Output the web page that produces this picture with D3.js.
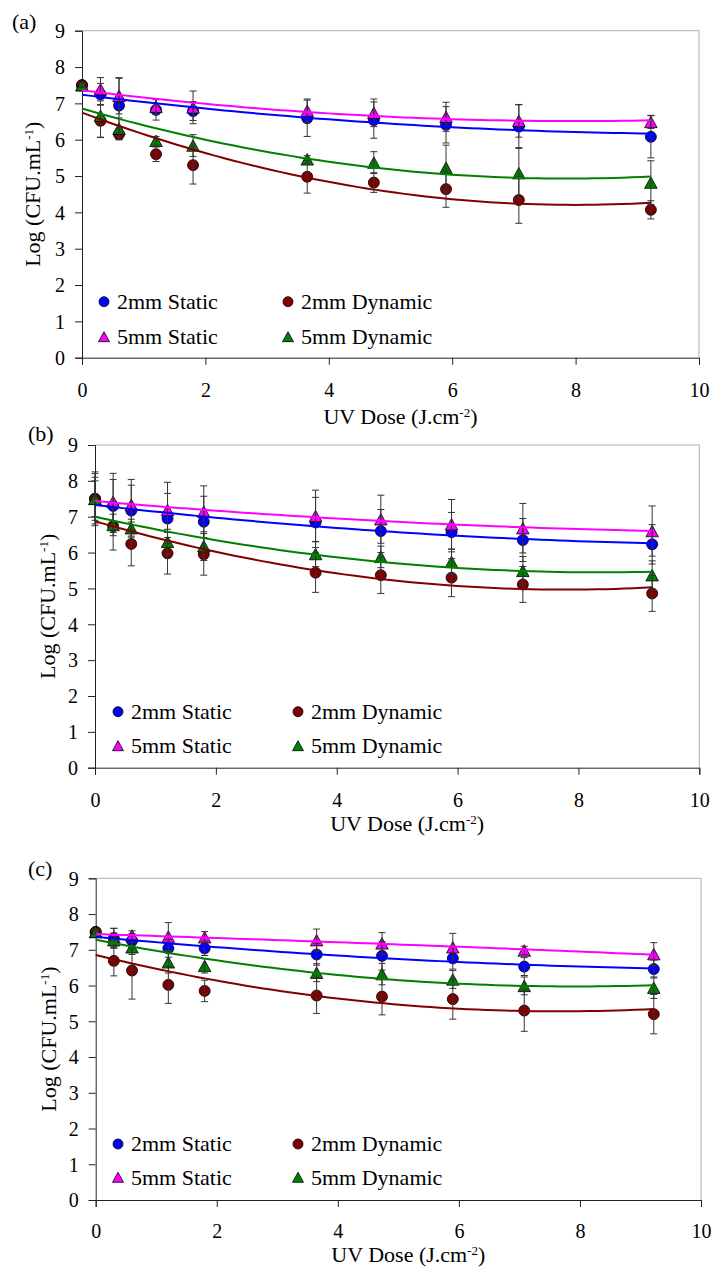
<!DOCTYPE html>
<html>
<head>
<meta charset="utf-8">
<script src="https://cdn.jsdelivr.net/npm/d3@7"></script>
<style>
body { margin: 0; background: #fff; }
text { font-family: "Liberation Serif", "Times New Roman", serif; fill: #000; }
</style>
</head>
<body>
<svg id="chart" width="715" height="1267"></svg>
<script>
// UV dose (J.cm-2), same for every panel
var dose = [0, 0.3, 0.6, 1.2, 1.8, 3.65, 4.73, 5.9, 7.08, 9.22];
var xTicks = [0, 2, 4, 6, 8, 10];
var yTicks = [0, 1, 2, 3, 4, 5, 6, 7, 8, 9];
var seriesNames = ['2mm Static', '2mm Dynamic', '5mm Static', '5mm Dynamic'];
var seriesColors = ['#0000ff', '#800000', '#ff00ff', '#008000'];
var seriesShapes = ['circle', 'circle', 'triangle', 'triangle'];

// panel (a)
var aStatic2  = [7.50, 7.25, 6.94, 6.82, 6.79, 6.59, 6.54, 6.41, 6.36, 6.08];
var aDynamic2 = [7.50, 6.52, 6.15, 5.60, 5.30, 4.98, 4.82, 4.64, 4.34, 4.07];
var aStatic5  = [7.50, 7.39, 7.21, 6.91, 6.89, 6.80, 6.74, 6.63, 6.52, 6.49];
var aDynamic5 = [7.50, 6.66, 6.30, 5.97, 5.84, 5.46, 5.37, 5.23, 5.08, 4.82];
var aErrS2 = [0.05, 0.30, 0.75, 0.28, 0.26, 0.50, 0.50, 0.50, 0.60, 0.58];
var aErrD2 = [0.05, 0.45, 0.15, 0.20, 0.52, 0.45, 0.27, 0.50, 0.64, 0.25];
var aErrS5 = [0.05, 0.32, 0.50, 0.21, 0.45, 0.32, 0.38, 0.40, 0.45, 0.18];
var aErrD5 = [0.05, 0.60, 0.30, 0.12, 0.30, 0.10, 0.30, 0.62, 0.70, 0.60];

// panel (b)
var bStatic2  = [7.50, 7.30, 7.17, 6.95, 6.86, 6.84, 6.60, 6.57, 6.35, 6.23];
var bDynamic2 = [7.50, 6.74, 6.24, 5.98, 5.95, 5.44, 5.37, 5.30, 5.11, 4.86];
var bStatic5  = [7.50, 7.42, 7.33, 7.19, 7.14, 7.02, 6.93, 6.79, 6.68, 6.60];
var bDynamic5 = [7.50, 6.77, 6.68, 6.30, 6.18, 5.96, 5.88, 5.74, 5.49, 5.37];
var bErrS2 = [0.70, 0.74, 0.71, 0.70, 0.71, 0.70, 0.60, 0.55, 0.60, 0.55];
var bErrD2 = [0.60, 0.67, 0.61, 0.58, 0.58, 0.55, 0.51, 0.53, 0.50, 0.50];
var bErrS5 = [0.75, 0.79, 0.71, 0.77, 0.72, 0.72, 0.67, 0.69, 0.69, 0.70];
var bErrD5 = [0.50, 0.30, 0.25, 0.35, 0.40, 0.35, 0.30, 0.35, 0.40, 0.40];

// panel (c)
var cStatic2  = [7.50, 7.32, 7.25, 7.04, 7.04, 6.87, 6.83, 6.76, 6.53, 6.46];
var cDynamic2 = [7.50, 6.69, 6.42, 6.02, 5.85, 5.72, 5.69, 5.62, 5.30, 5.20];
var cStatic5  = [7.50, 7.35, 7.40, 7.37, 7.35, 7.27, 7.18, 7.07, 6.98, 6.88];
var cDynamic5 = [7.50, 7.27, 7.07, 6.65, 6.55, 6.36, 6.32, 6.17, 5.99, 5.94];
var cErrS2 = [0.05, 0.28, 0.20, 0.25, 0.20, 0.30, 0.40, 0.30, 0.25, 0.25];
var cErrD2 = [0.05, 0.42, 0.80, 0.52, 0.30, 0.50, 0.51, 0.56, 0.58, 0.55];
var cErrS5 = [0.05, 0.25, 0.13, 0.39, 0.16, 0.31, 0.30, 0.39, 0.12, 0.32];
var cErrD5 = [0.05, 0.20, 0.20, 0.30, 0.20, 0.25, 0.30, 0.25, 0.25, 0.30];

var panels = [
  { tag: '(a)', vals: [aStatic2, aDynamic2, aStatic5, aDynamic5], errs: [aErrS2, aErrD2, aErrS5, aErrD5],
    left: 82, right: 699, top: 30.7, bottom: 357.7, tagX: 12, tagY: 29, yTitleX: 33,
    xTickY: 390, xTitleY: 424, legX: [104, 288], legY: [301.7, 336.7] },
  { tag: '(b)', vals: [bStatic2, bDynamic2, bStatic5, bDynamic5], errs: [bErrS2, bErrD2, bErrS5, bErrD5],
    left: 95, right: 699.3, top: 445, bottom: 767.7, tagX: 28, tagY: 441, yTitleX: 48,
    xTickY: 800, xTitleY: 831, legX: [118, 298], legY: [711.7, 745.7] },
  { tag: '(c)', vals: [cStatic2, cDynamic2, cStatic5, cDynamic5], errs: [cErrS2, cErrD2, cErrS5, cErrD5],
    left: 95.7, right: 701, top: 878.3, bottom: 1200, tagX: 28, tagY: 876, yTitleX: 49,
    xTickY: 1231, xTitleY: 1262, legX: [118, 298], legY: [1144, 1177.3] }
];

var drawOrder = [0, 2, 1, 3];
var fontSize = 22;
var tickFont = 20;

// order-2 polynomial trendline (least squares), like the spreadsheet trendline
function quadFit(xs, ys) {
  var s = [0, 0, 0, 0, 0], t = [0, 0, 0];
  xs.forEach(function (x, i) {
    for (var k = 0; k < 5; k++) s[k] += Math.pow(x, k);
    for (var k = 0; k < 3; k++) t[k] += Math.pow(x, k) * ys[i];
  });
  var m = [[s[0], s[1], s[2], t[0]], [s[1], s[2], s[3], t[1]], [s[2], s[3], s[4], t[2]]];
  for (var i = 0; i < 3; i++) {
    for (var j = i + 1; j < 3; j++) {
      var f = m[j][i] / m[i][i];
      for (var k = i; k < 4; k++) m[j][k] -= f * m[i][k];
    }
  }
  var c = [0, 0, 0];
  for (var i = 2; i >= 0; i--) {
    var v = m[i][3];
    for (var k = i + 1; k < 3; k++) v -= m[i][k] * c[k];
    c[i] = v / m[i][i];
  }
  return function (x) { return c[0] + c[1] * x + c[2] * x * x; };
}

function marker(g, shape, x, y, size, color) {
  if (shape === 'circle') {
    g.append('circle').attr('cx', x).attr('cy', y).attr('r', size / 2)
      .attr('fill', color).attr('stroke', '#000').attr('stroke-width', 0.8);
  } else {
    var h = size / 2;
    g.append('path').attr('d', 'M' + x + ',' + (y - h) + 'L' + (x + h + 0.5) + ',' + (y + h) + 'L' + (x - h - 0.5) + ',' + (y + h) + 'Z')
      .attr('fill', color).attr('stroke', '#000').attr('stroke-width', 0.8);
  }
}

var svg = d3.select('#chart');

panels.forEach(function (p) {
  var x = d3.scaleLinear().domain([0, 10]).range([p.left, p.right]);
  var y = d3.scaleLinear().domain([0, 9]).range([p.bottom, p.top]);
  var g = svg.append('g');

  // plot frame: grey top and right
  g.append('path').attr('d', 'M' + p.left + ',' + p.top + 'H' + p.right + 'V' + p.bottom)
    .attr('fill', 'none').attr('stroke', '#b0b0b0').attr('stroke-width', 1);

  // axes
  var yAxis = d3.axisLeft(y).tickValues(yTicks).tickSize(7).tickPadding(10).tickFormat(d3.format('d'));
  var xAxis = d3.axisBottom(x).tickValues(xTicks).tickSize(7).tickPadding(10).tickFormat(d3.format('d'));
  var ya = g.append('g').attr('transform', 'translate(' + p.left + ',0)').call(yAxis);
  var xa = g.append('g').attr('transform', 'translate(0,' + p.bottom + ')').call(xAxis);
  [ya, xa].forEach(function (a) {
    a.select('.domain').attr('stroke', '#222');
    a.selectAll('.tick line').attr('stroke', '#222');
    a.selectAll('.tick text').style('font-family', '"Liberation Serif", serif').attr('font-size', tickFont).attr('fill', '#000');
  });
  ya.selectAll('.tick text').attr('x', -17).attr('dy', '0.34em');
  xa.selectAll('.tick text').attr('y', p.xTickY - p.bottom).attr('dy', '0.34em');

  // markers
  var mk = g.append('g');
  drawOrder.forEach(function (si) {
    p.vals[si].forEach(function (v, i) {
      marker(mk, seriesShapes[si], x(dose[i]), y(v), seriesShapes[si] === 'circle' ? 11 : 11.5, seriesColors[si]);
    });
  });

  // error bars
  var eb = g.append('g').attr('stroke', '#333').attr('stroke-width', 1);
  drawOrder.forEach(function (si) {
    p.vals[si].forEach(function (v, i) {
      var e = p.errs[si][i], cx = x(dose[i]);
      eb.append('line').attr('x1', cx).attr('x2', cx).attr('y1', y(v - e)).attr('y2', y(v + e));
      [v - e, v + e].forEach(function (w) {
        eb.append('line').attr('x1', cx - 3.5).attr('x2', cx + 3.5).attr('y1', y(w)).attr('y2', y(w));
      });
    });
  });

  // trendlines
  var line = d3.line().x(function (d) { return x(d[0]); }).y(function (d) { return y(d[1]); });
  drawOrder.forEach(function (si) {
    var f = quadFit(dose, p.vals[si]);
    var pts = d3.range(0, 61).map(function (k) { var xx = dose[dose.length - 1] * k / 60; return [xx, f(xx)]; });
    g.append('path').datum(pts).attr('d', line).attr('fill', 'none')
      .attr('stroke', seriesColors[si]).attr('stroke-width', 2);
  });

  // legend, two columns
  seriesNames.forEach(function (name, si) {
    var col = si % 2, row = Math.floor(si / 2);
    var lx = p.legX[col], ly = p.legY[row];
    marker(g, seriesShapes[si], lx, ly, 10, seriesColors[si]);
    g.append('text').attr('x', lx + 13).attr('y', ly).attr('dy', '0.34em')
      .attr('font-size', fontSize).text(name);
  });

  // panel tag
  g.append('text').attr('x', p.tagX).attr('y', p.tagY).attr('font-size', fontSize).text(p.tag);

  // x title
  var xt = g.append('text').attr('x', (p.left + p.right) / 2 + 10).attr('y', p.xTitleY)
    .attr('text-anchor', 'middle').attr('font-size', fontSize);
  xt.append('tspan').text('UV Dose (J.cm');
  xt.append('tspan').attr('dy', -7).attr('font-size', 13).text('-2');
  xt.append('tspan').attr('dy', 7).text(')');

  // y title
  var yt = g.append('text').attr('transform', 'translate(' + p.yTitleX + ',' + (p.top + p.bottom) / 2 + ') rotate(-90)')
    .attr('text-anchor', 'middle').attr('dy', '0.34em').attr('font-size', fontSize);
  yt.append('tspan').text('Log (CFU.mL');
  yt.append('tspan').attr('dy', -7).attr('font-size', 13).text('-1');
  yt.append('tspan').attr('dy', 7).text(')');
});
</script>
</body>
</html>
